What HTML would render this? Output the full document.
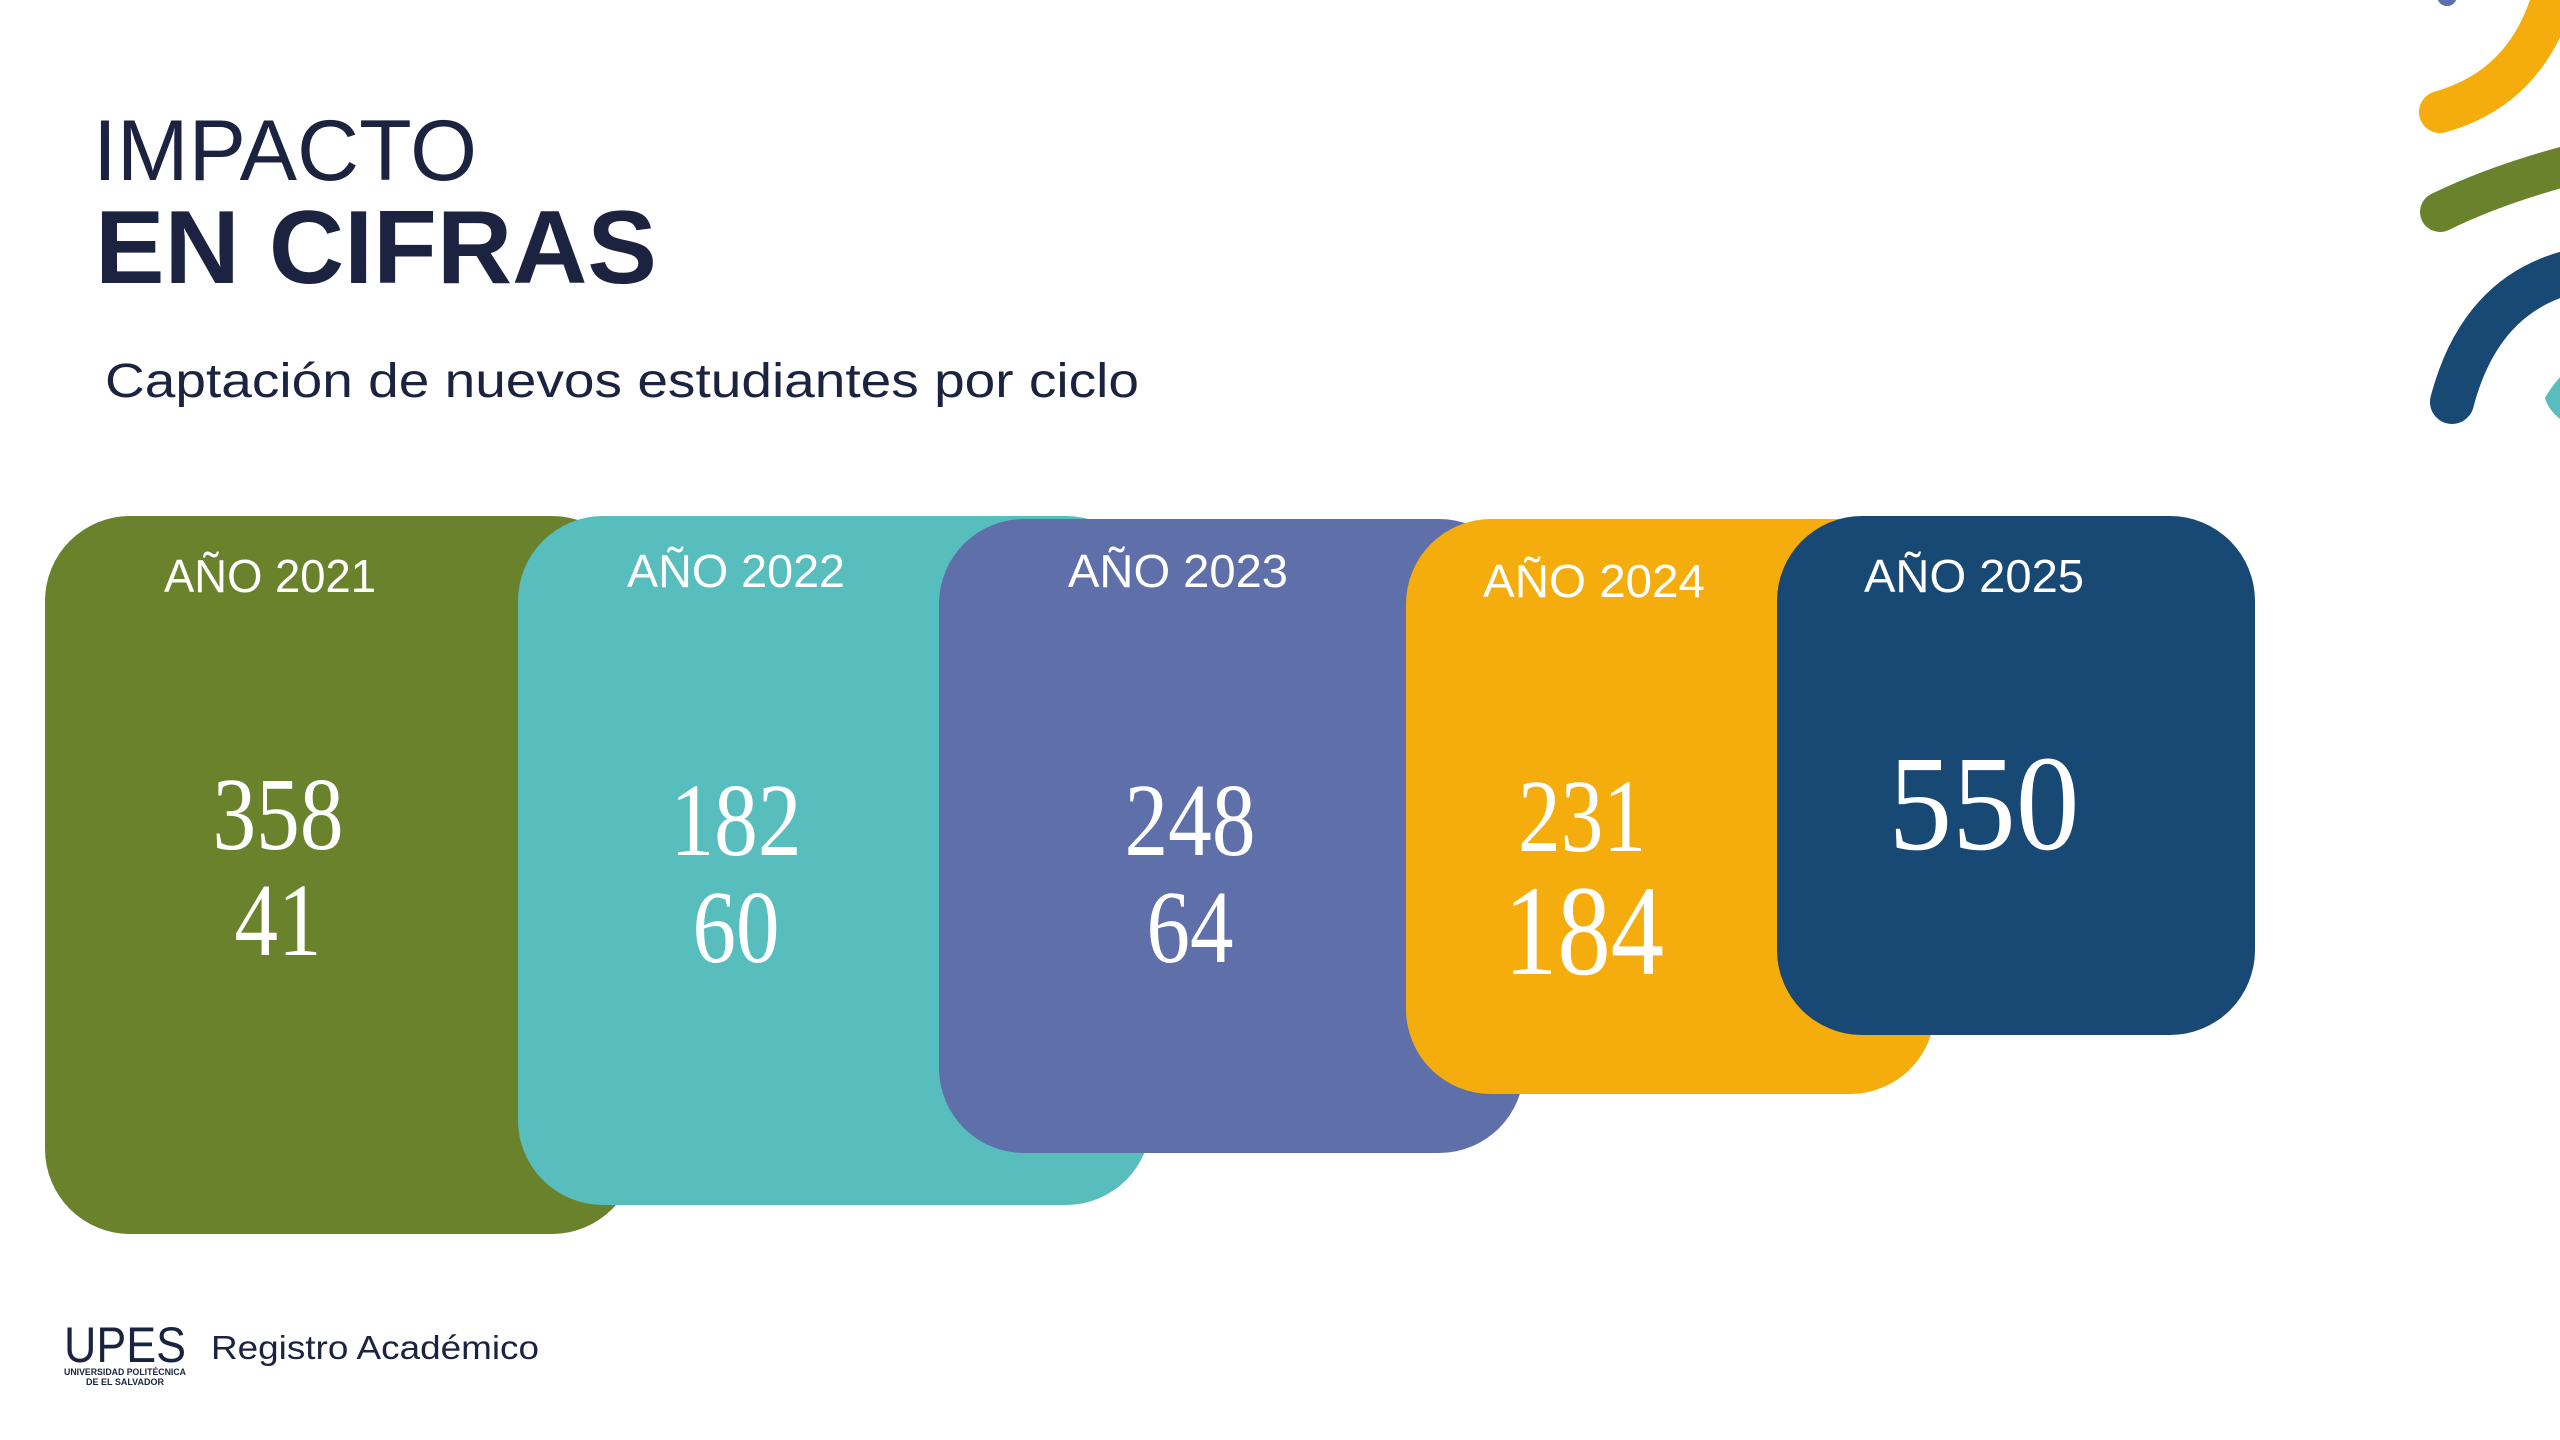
<!DOCTYPE html>
<html><head><meta charset="utf-8"><style>
html,body{margin:0;padding:0;background:#fff;width:2560px;height:1440px;overflow:hidden}
svg{display:block}
.l{font-family:"Liberation Sans",sans-serif;fill:#fff;font-size:46px;text-anchor:middle}
.n{font-family:"Liberation Serif",serif;fill:#fff;text-anchor:middle}
</style></head><body>
<svg width="2560" height="1440" viewBox="0 0 2560 1440" xmlns="http://www.w3.org/2000/svg">
<rect width="2560" height="1440" fill="#fff"/>
<circle cx="2447" cy="-4" r="10" fill="#5e6fa9"/>
<path d="M2440,112 Q2525,88 2552,0" stroke="#f5ad0d" stroke-width="42" fill="none" stroke-linecap="round"/>
<path d="M2440,212 Q2495,185 2570,165" stroke="#6b822d" stroke-width="40" fill="none" stroke-linecap="round"/>
<path d="M2452,402 Q2480,295 2570,272" stroke="#184874" stroke-width="44" fill="none" stroke-linecap="round"/>
<path d="M2545,398 Q2555,380 2570,368 L2570,425 Q2550,415 2545,398Z" fill="#58bdbd"/>
<text x="93" y="180" font-family="Liberation Sans,sans-serif" font-size="86" fill="#1c2340" textLength="384" lengthAdjust="spacingAndGlyphs">IMPACTO</text>
<text x="95" y="283" font-family="Liberation Sans,sans-serif" font-weight="bold" font-size="104" fill="#1c2340" textLength="562" lengthAdjust="spacingAndGlyphs">EN CIFRAS</text>
<text x="105" y="397" font-family="Liberation Sans,sans-serif" font-size="48" fill="#1c2340" textLength="1034" lengthAdjust="spacingAndGlyphs">Captación de nuevos estudiantes por ciclo</text>
<rect x="45" y="516" width="592" height="718" rx="85" fill="#6b822d"/>
<rect x="518" y="516" width="633" height="689" rx="85" fill="#58bdbd"/>
<rect x="939" y="519" width="585" height="634" rx="85" fill="#5e6fa9"/>
<rect x="1406" y="519" width="529" height="575" rx="85" fill="#f5ad0d"/>
<rect x="1777" y="516" width="478" height="519" rx="85" fill="#184874"/>
<g class="l">
<text x="270" y="592" textLength="212" lengthAdjust="spacingAndGlyphs">AÑO 2021</text>
<text x="736" y="587" textLength="218" lengthAdjust="spacingAndGlyphs">AÑO 2022</text>
<text x="1178" y="587" textLength="220" lengthAdjust="spacingAndGlyphs">AÑO 2023</text>
<text x="1594" y="597" textLength="222" lengthAdjust="spacingAndGlyphs">AÑO 2024</text>
<text x="1974" y="592" textLength="220" lengthAdjust="spacingAndGlyphs">AÑO 2025</text>
</g>
<g class="n">
<text x="278" y="849" font-size="104" textLength="131" lengthAdjust="spacingAndGlyphs">358</text>
<text x="278" y="955" font-size="104" textLength="87" lengthAdjust="spacingAndGlyphs">41</text>
<text x="736" y="855" font-size="104" textLength="131" lengthAdjust="spacingAndGlyphs">182</text>
<text x="736" y="962" font-size="104" textLength="87" lengthAdjust="spacingAndGlyphs">60</text>
<text x="1190" y="855" font-size="104" textLength="131" lengthAdjust="spacingAndGlyphs">248</text>
<text x="1190" y="962" font-size="104" textLength="87" lengthAdjust="spacingAndGlyphs">64</text>
<text x="1582" y="851" font-size="104" textLength="128" lengthAdjust="spacingAndGlyphs">231</text>
<text x="1584" y="974" font-size="129" textLength="160" lengthAdjust="spacingAndGlyphs">184</text>
<text x="1984" y="849" font-size="136" textLength="191" lengthAdjust="spacingAndGlyphs">550</text>
</g>
<text x="64" y="1362" font-family="Liberation Sans,sans-serif" font-size="50" fill="#1c2340" textLength="122" lengthAdjust="spacingAndGlyphs">UPES</text>
<text x="125" y="1375" font-family="Liberation Sans,sans-serif" font-weight="bold" font-size="9" fill="#1c2340" text-anchor="middle" textLength="122" lengthAdjust="spacingAndGlyphs">UNIVERSIDAD POLITÉCNICA</text>
<text x="125" y="1385" font-family="Liberation Sans,sans-serif" font-weight="bold" font-size="9" fill="#1c2340" text-anchor="middle">DE EL SALVADOR</text>
<text x="211" y="1359" font-family="Liberation Sans,sans-serif" font-size="33" fill="#1c2340" textLength="328" lengthAdjust="spacingAndGlyphs">Registro Académico</text>
</svg>
</body></html>
